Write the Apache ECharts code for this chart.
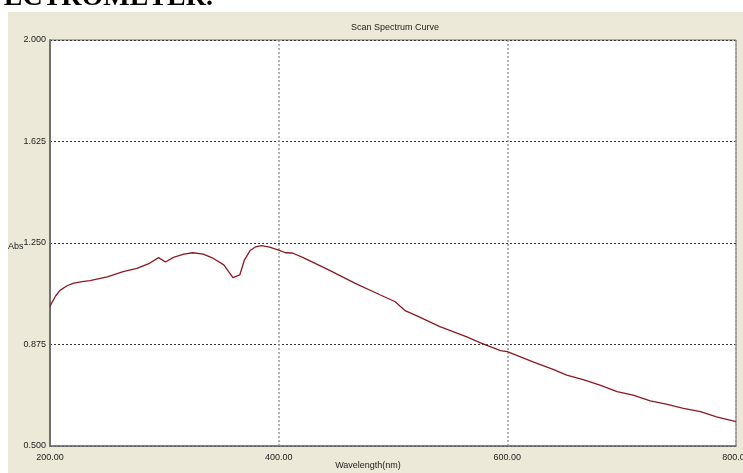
<!DOCTYPE html>
<html>
<head>
<meta charset="utf-8">
<script src="https://cdn.jsdelivr.net/npm/echarts@6/dist/echarts.min.js"></script>
<style>
  html, body { margin: 0; padding: 0; background: #ffffff; }
  #chart { width: 743px; height: 473px; }
</style>
</head>
<body>
<div id="chart"></div>
<script>
// Scan spectrum: absorbance vs wavelength
const wavelength = [200, 205, 209, 215, 220, 228, 235, 250, 264, 276, 287, 295, 301, 308, 317, 325, 334, 343, 352, 360, 366, 370, 375, 380, 385, 392, 400, 406, 412, 421, 445, 467, 489, 502, 506, 511, 521, 541, 564, 576, 594, 600, 623, 640, 652, 667, 681, 696, 710, 725, 739, 754, 769, 783, 800];
const absorbance = [1.017, 1.055, 1.076, 1.092, 1.101, 1.107, 1.111, 1.125, 1.144, 1.156, 1.175, 1.196, 1.180, 1.197, 1.209, 1.214, 1.209, 1.193, 1.169, 1.122, 1.132, 1.187, 1.222, 1.236, 1.240, 1.235, 1.224, 1.214, 1.213, 1.197, 1.148, 1.101, 1.058, 1.033, 1.017, 0.999, 0.981, 0.941, 0.904, 0.882, 0.852, 0.849, 0.810, 0.783, 0.762, 0.744, 0.725, 0.701, 0.688, 0.667, 0.655, 0.639, 0.627, 0.608, 0.590];

const xTicks = [200, 400, 600, 800];
const yTicks = [0.5, 0.875, 1.25, 1.625, 2.0];

const chartTitle = 'Scan Spectrum Curve';
const xName = 'Wavelength(nm)';
const yName = 'Abs';
const heading = 'SPECTROMETER.';

const tickFont = "'Liberation Sans Narrow', 'Arial Narrow', 'Liberation Sans', sans-serif";

const chart = echarts.init(document.getElementById('chart'), null, { renderer: 'canvas' });

chart.setOption({
  backgroundColor: '#ffffff',
  animation: false,
  graphic: [
    {
      type: 'rect', z: -10, silent: true,
      shape: { x: 8, y: 12, width: 735, height: 461 },
      style: { fill: '#ece9d8' }
    },
    {
      type: 'text', z: 5, silent: true,
      style: {
        x: 213, y: 12, text: heading,
        font: "bold 28px 'Liberation Serif', 'Times New Roman', serif",
        fill: '#000', align: 'right', verticalAlign: 'bottom'
      }
    },
    {
      type: 'text', z: 5, silent: true,
      style: {
        x: 395, y: 28, text: chartTitle,
        font: "9px " + tickFont, fill: '#222', align: 'center', verticalAlign: 'middle'
      }
    },
    {
      type: 'text', z: 5, silent: true,
      style: {
        x: 8, y: 247, text: yName,
        font: "9px " + tickFont, fill: '#222', align: 'left', verticalAlign: 'middle'
      }
    },
    {
      type: 'text', z: 5, silent: true,
      style: {
        x: 368, y: 466, text: xName,
        font: "9px " + tickFont, fill: '#222', align: 'center', verticalAlign: 'middle'
      }
    }
  ],
  grid: {
    left: 50, top: 40, right: 7, bottom: 27,
    containLabel: false,
    outerBoundsMode: 'none',
    show: true, backgroundColor: '#ffffff',
    borderColor: '#6e6e6e', borderWidth: 1
  },
  xAxis: {
    type: 'value',
    min: 200, max: 800, interval: 200,
    axisLine: { show: true, onZero: false, lineStyle: { color: '#707070', width: 1.5 } },
    axisTick: { show: false },
    axisLabel: {
      show: true, margin: 7, color: '#222', fontSize: 9, fontFamily: tickFont,
      hideOverlap: false,
      formatter: v => xTicks.includes(v) ? v.toFixed(2) : ''
    },
    splitLine: { show: true, lineStyle: { color: '#9a9a9a', width: 1.5, type: [2, 2] } }
  },
  yAxis: {
    type: 'value',
    min: 0.5, max: 2.0, interval: 0.375,
    axisLine: { show: true, onZero: false, lineStyle: { color: '#707070', width: 2 } },
    axisTick: { show: false },
    axisLabel: {
      show: true, margin: 4, color: '#222', fontSize: 9, fontFamily: tickFont,
      formatter: v => yTicks.some(t => Math.abs(t - v) < 1e-6) ? v.toFixed(3) : ''
    },
    splitLine: { show: true, lineStyle: { color: '#333333', width: 1, type: [2, 2] } }
  },
  series: [{
    type: 'line',
    data: wavelength.map((w, i) => [w, absorbance[i]]),
    showSymbol: false,
    symbol: 'none',
    smooth: false,
    lineStyle: { color: '#8b1a22', width: 1.3 },
    z: 3
  }]
});
</script>
</body>
</html>
